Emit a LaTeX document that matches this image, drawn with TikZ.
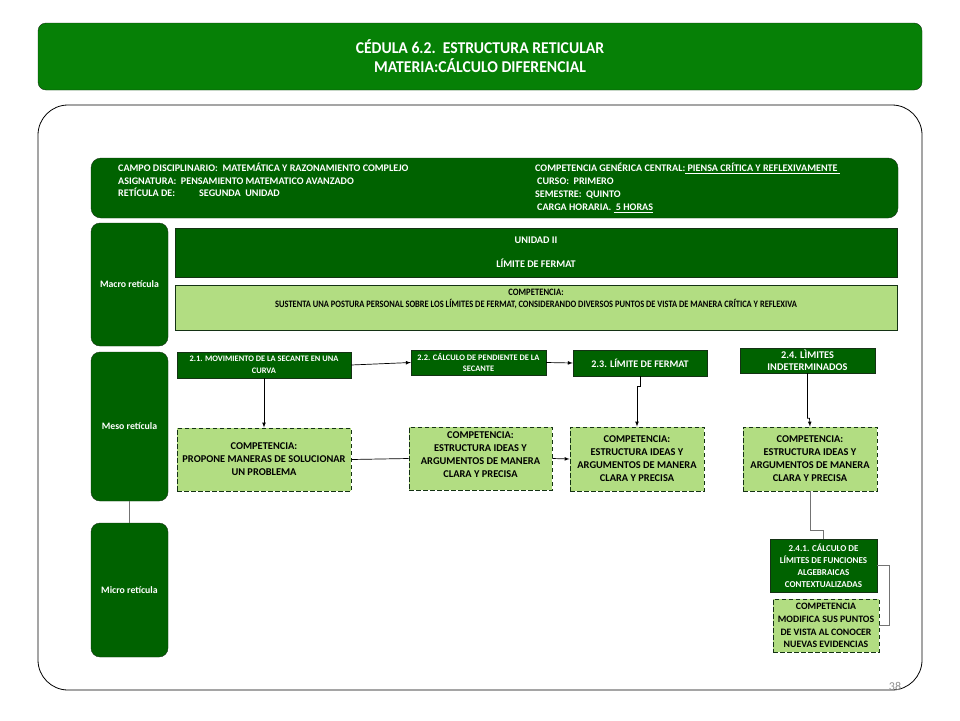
\documentclass[tikz,border=0pt]{standalone}
\usepackage{fontspec}
\usepackage{graphicx}
\setmainfont{Carlito}
\usetikzlibrary{arrows.meta}

\definecolor{titlegreen}{RGB}{6,128,6}
\definecolor{darkgreen}{RGB}{0,98,0}
\definecolor{lightgreen}{RGB}{178,221,130}
\definecolor{edgegreen}{RGB}{20,50,20}

\tikzset{
  sidebox/.style={rectangle, rounded corners=9pt, fill=darkgreen, draw=edgegreen, text=white, align=center, minimum width=77pt, font=\bfseries\fontsize{9.8}{11}\selectfont},
  darkbox/.style={rectangle, fill=darkgreen, draw=edgegreen, text=white, align=center, inner sep=1pt, font=\bfseries\fontsize{8.4}{11.5}\selectfont},
  compbox/.style={rectangle, fill=lightgreen, draw=edgegreen, line width=0.9pt, dash pattern=on 4.5pt off 2.5pt, align=center, inner sep=1pt, font=\bfseries\fontsize{10.4}{13}\selectfont},
  link/.style={->, >=latex, line width=0.7pt},
  joint/.style={line width=0.7pt},
  greyjoint/.style={line width=0.8pt, draw=black!55}
}

\begin{document}
\begin{tikzpicture}[x=1pt, y=-1pt]
  \useasboundingbox (0,0) rectangle (960,720);
  %Header:
  \node[rectangle, rounded corners=8pt, fill=titlegreen, draw=edgegreen, text=white, align=center, minimum width=884pt, minimum height=67pt, font=\bfseries\fontsize{16.5}{19}\selectfont] (title) at (480,56.5) {\scalebox{0.95}[1]{CÉDULA 6.2.~~ESTRUCTURA RETICULAR}\\\scalebox{0.95}[1]{MATERIA:CÁLCULO DIFERENCIAL}};
  %Frame:
  \draw[line width=0.8pt, rounded corners=30pt] (38,105) rectangle (922,690);
  \node[text=black!45, font=\fontsize{12}{12}\selectfont] (pagenum) at (895,686) {38};

  %Info:
  \node[rectangle, rounded corners=10pt, fill=darkgreen, draw=edgegreen, minimum width=807pt, minimum height=60pt] (info) at (494.5,188) {};
  \node[anchor=north west, text=white, align=left, inner sep=0pt, font=\bfseries\fontsize{10.1}{12.5}\selectfont] (infoleft) at (118,163) {CAMPO DISCIPLINARIO:~~MATEMÁTICA Y RAZONAMIENTO COMPLEJO\\ASIGNATURA:~~PENSAMIENTO MATEMATICO AVANZADO\\RETÍCULA DE:\hspace{24pt}SEGUNDA~~UNIDAD};
  \node[anchor=north west, text=white, align=left, inner sep=0pt, font=\bfseries\fontsize{10.1}{13}\selectfont] (inforight) at (535,163) {COMPETENCIA GENÉRICA CENTRAL:\underline{ PIENSA CRÍTICA Y REFLEXIVAMENTE }\\\hspace*{2pt}CURSO:~~PRIMERO\\SEMESTRE:~~QUINTO\\\hspace*{2pt}CARGA HORARIA.~\underline{ 5 HORAS}};

  %Side labels:
  \node[sidebox, minimum height=123pt] (macro) at (129.5,284.5) {Macro retícula};
  \node[sidebox, minimum height=149pt] (meso) at (129.5,426.5) {Meso retícula};
  \node[sidebox, minimum height=134pt] (micro) at (129.5,590) {Micro retícula};
  \draw[greyjoint] (meso.south) -- (micro.north);

  %Macro:
  \node[darkbox, minimum width=722pt, minimum height=49pt, font=\bfseries\fontsize{10.2}{11}\selectfont] (unidad) at (536,252.5) {UNIDAD II\\[13pt]LÍMITE DE FERMAT};
  \node[rectangle, fill=lightgreen, draw=edgegreen, line width=0.8pt, minimum width=722pt, minimum height=45pt] (compmacro) at (536,307.5) {};
  \node[below, align=center, inner sep=0pt, yshift=-4pt, font=\bfseries\fontsize{9.8}{12}\selectfont] (compmacrotxt) at (compmacro.north) {\scalebox{0.88}[1]{COMPETENCIA:}\\\scalebox{0.86}[1]{SUSTENTA UNA POSTURA PERSONAL SOBRE LOS LÍMITES DE FERMAT, CONSIDERANDO DIVERSOS PUNTOS DE VISTA DE MANERA CRÍTICA Y REFLEXIVA}};

  %Meso topics:
  \node[darkbox, minimum width=174pt, minimum height=26pt] (t21) at (264,365) {2.1. MOVIMIENTO DE LA SECANTE EN UNA\\CURVA};
  \node[darkbox, minimum width=135pt, minimum height=25pt] (t22) at (478.5,362.5) {2.2. CÁLCULO DE PENDIENTE DE LA\\SECANTE};
  \node[darkbox, minimum width=134pt, minimum height=26pt, font=\bfseries\fontsize{10.1}{12}\selectfont] (t23) at (640,363) {2.3. LÍMITE DE FERMAT};
  \node[darkbox, minimum width=135pt, minimum height=25pt, font=\bfseries\fontsize{10.3}{12}\selectfont] (t24) at (807.5,360.5) {2.4. LÌMITES\\INDETERMINADOS};

  %Meso competencias:
  \node[compbox, minimum width=174pt, minimum height=63pt] (c1) at (264,459.5) {COMPETENCIA:\\PROPONE MANERAS DE SOLUCIONAR\\UN PROBLEMA};
  \node[compbox, minimum width=143pt, minimum height=63pt] (c2) at (480.5,458.5) {COMPETENCIA:\\ESTRUCTURA IDEAS Y\\ARGUMENTOS DE MANERA\\CLARA Y PRECISA\\[-6pt]};
  \node[compbox, minimum width=134pt, minimum height=64pt] (c3) at (637,459) {COMPETENCIA:\\ESTRUCTURA IDEAS Y\\ARGUMENTOS DE MANERA\\CLARA Y PRECISA};
  \node[compbox, minimum width=134pt, minimum height=64pt] (c4) at (810,459) {COMPETENCIA:\\ESTRUCTURA IDEAS Y\\ARGUMENTOS DE MANERA\\CLARA Y PRECISA};

  %Micro:
  \node[darkbox, minimum width=107pt, minimum height=53pt, font=\bfseries\fontsize{9}{12}\selectfont] (t241) at (823.5,565.5) {2.4.1. CÁLCULO DE\\LÍMITES DE FUNCIONES\\ALGEBRAICAS\\CONTEXTUALIZADAS};
  \node[compbox, minimum width=106pt, minimum height=53pt, font=\bfseries\fontsize{9.8}{12.8}\selectfont] (c241) at (826,625.5) {COMPETENCIA\\MODIFICA SUS PUNTOS\\DE VISTA AL CONOCER\\NUEVAS EVIDENCIAS};

  %Edges:
  \draw[link] (t21.east) -- (t22.west);
  \draw[link] (t22.east) -- (t23.west);
  \draw[link] (t21.south) -- (c1.north);
  \draw[joint] (c1.east) -- (c2.west);
  \draw[link] (c2.east) -- (c3.west);
  \draw[link] (t23.south) -- ++(0,10) -| (c3.north);
  \draw[link] (t24.south) |- ++(2,45) -- (c4.north);
  \draw[greyjoint] (c4.south) -- ++(0,39) -| (t241.north);
  \draw[greyjoint] (t241.east) -- ++(12,0) |- (c241.east);
\end{tikzpicture}
\end{document}
